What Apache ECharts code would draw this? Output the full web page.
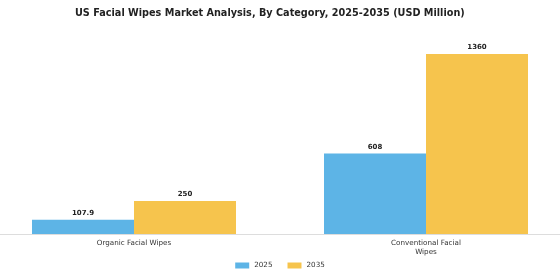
<!DOCTYPE html>
<html>
<head>
<meta charset="utf-8">
<script src="https://cdn.jsdelivr.net/npm/echarts@6/dist/echarts.min.js"></script>
<style>
  html, body { margin: 0; padding: 0; background: #fff; }
  #chart { width: 560px; height: 280px; }
</style>
</head>
<body>
<div id="chart"></div>
<script>
const categories = ['Organic Facial Wipes', 'Conventional Facial\nWipes']
const years = ['2025', '2035']
const values2025 = [107.9, 608]
const values2035 = [250, 1360]

const chart = echarts.init(document.getElementById('chart'))

const labelStyle = {
  show: true,
  position: 'top',
  fontFamily: 'DejaVu Sans',
  fontSize: 7,
  fontWeight: 'bold',
  color: '#222',
  distance: 3,
  formatter: (p) => p.value[1]
}

// category slots sit at x = 0 and 1; the range puts their centres at ~134px and ~426px
const toPairs = (arr) => arr.map((v, i) => [i, v])

const option = {
  animation: false,
  title: {
    text: 'US Facial Wipes Market Analysis, By Category, 2025-2035 (USD Million)',
    left: 70,
    top: 3,
    textStyle: {
      fontFamily: 'DejaVu Sans',
      fontSize: 9.7,
      fontWeight: 'bold',
      color: '#222'
    }
  },
  legend: {
    data: years,
    bottom: 6,
    left: 'center',
    itemWidth: 14,
    itemHeight: 6,
    itemGap: 15,
    icon: 'rect',
    textStyle: {
      fontFamily: 'DejaVu Sans',
      fontSize: 7.2,
      color: '#333'
    }
  },
  grid: {
    left: 0,
    right: 0,
    top: 35.5,
    bottom: 46
  },
  xAxis: {
    type: 'value',
    min: -0.4589,
    max: 1.4589,
    splitLine: { show: false },
    axisLine: { show: true, lineStyle: { color: '#ddd' } },
    axisTick: { show: false },
    axisLabel: {
      customValues: [0, 1],
      formatter: (v) => categories[Math.round(v)],
      fontFamily: 'DejaVu Sans',
      fontSize: 7.2,
      color: '#333',
      margin: 5,
      lineHeight: 9
    }
  },
  yAxis: {
    type: 'value',
    min: 0,
    max: 1500,
    show: false
  },
  series: [
    {
      name: '2025',
      type: 'bar',
      data: toPairs(values2025),
      barWidth: 102,
      barGap: '0%',
      itemStyle: { color: '#5DB4E6' },
      label: labelStyle
    },
    {
      name: '2035',
      type: 'bar',
      data: toPairs(values2035),
      barWidth: 102,
      barGap: '0%',
      itemStyle: { color: '#F6C44D' },
      label: labelStyle
    }
  ]
}

chart.setOption(option)
window.addEventListener('resize', () => chart.resize())
</script>
</body>
</html>
